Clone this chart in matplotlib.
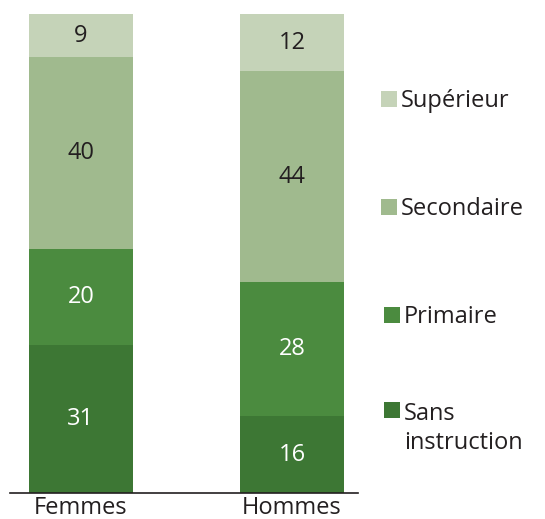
import matplotlib.pyplot as plt
from matplotlib.patches import Rectangle

plt.rcParams['font.family'] = ['Open Sans', 'DejaVu Sans']

groups = ["Femmes", "Hommes"]
levels = ["Sans\ninstruction", "Primaire", "Secondaire", "Supérieur"]
values = {
    "Sans\ninstruction": [31, 16],
    "Primaire": [20, 28],
    "Secondaire": [40, 44],
    "Supérieur": [9, 12],
}
colors = ["#3d7734", "#4b8b3f", "#a0ba8e", "#c5d3b8"]
text_colors = ["white", "white", "#231f20", "#231f20"]

W, H = 545, 519
fig = plt.figure(figsize=(W / 100, H / 100), dpi=100)
ax = fig.add_axes([10 / W, (H - 493) / H, (358 - 10) / W, (493 - 14) / H])

x = [0, 1]
bottoms = [0, 0]
for lvl, col, tc in zip(levels, colors, text_colors):
    vals = values[lvl]
    ax.bar(x, vals, bottom=bottoms, width=0.493, color=col, linewidth=0)
    for xi, v, b in zip(x, vals, bottoms):
        ax.text(xi, b + v / 2, str(v), ha="center", va="center",
                fontsize=17, color=tc)
    bottoms = [b + v for b, v in zip(bottoms, vals)]

ax.set_xlim(-0.336, 1.313)
ax.set_ylim(0, 100)
ax.set_xticks(x)
ax.set_xticklabels(groups, fontsize=17, color="#231f20")
ax.tick_params(axis="x", length=0, pad=2)
ax.set_yticks([])
for s in ["top", "left", "right"]:
    ax.spines[s].set_visible(False)
ax.spines["bottom"].set_color("#231f20")
ax.spines["bottom"].set_linewidth(1.2)

# legend drawn by hand (uneven spacing in the original)
legend_pos = [(384, 410), (384, 315), (381, 207), (381, 99)]
for lvl, col, (px, py) in zip(levels, colors, legend_pos):
    fig.patches.append(Rectangle((px / W, (H - py - 8) / H), 16 / W, 16 / H,
                                 transform=fig.transFigure, color=col,
                                 linewidth=0))
    ty = (H - py - 2) / H
    va = "center"
    if "\n" in lvl:
        ty = (H - py + 8) / H
        va = "top"
    fig.text((px + 20) / W, ty, lvl, fontsize=17, color="#231f20",
             va=va, ha="left", linespacing=1.3)

fig.savefig("out.png", dpi=100)
